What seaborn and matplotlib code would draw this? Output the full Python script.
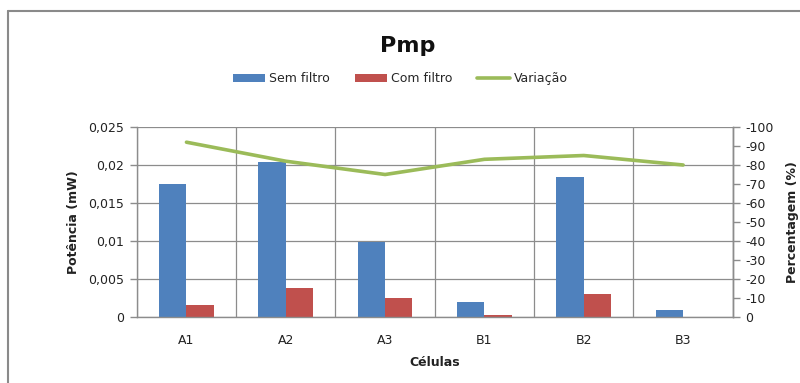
import numpy as np
import pandas as pd
import matplotlib
matplotlib.use("Agg")
import matplotlib.pyplot as plt
from matplotlib.patches import Patch
from matplotlib.lines import Line2D
from matplotlib.ticker import FuncFormatter
import seaborn as sns

# Data
celulas = ["A1", "A2", "A3", "B1", "B2", "B3"]
sem_filtro = [0.0175, 0.0204, 0.0099, 0.0020, 0.0184, 0.0009]
com_filtro = [0.0016, 0.0038, 0.0025, 0.0003, 0.0030, 0.0000]
variacao = [-92, -82, -75, -83, -85, -80]
series_names = ["Sem filtro", "Com filtro"]

blue = "#4F81BD"
red = "#C0504D"
green = "#9BBB59"
grid_c = "#8C8C8C"

sns.set_theme(style="white")
plt.rcParams["font.family"] = ["DejaVu Sans"]

df = pd.DataFrame({
    "Células": celulas * 2,
    "Potência": sem_filtro + com_filtro,
    "Série": [series_names[0]] * len(celulas) + [series_names[1]] * len(celulas),
})

fig = plt.figure(figsize=(8.0, 3.83), dpi=100)
ax = fig.add_axes([0.171, 0.1723, 0.745, 0.4961])

sns.barplot(data=df, x="Células", y="Potência", hue="Série",
            palette=[blue, red], width=0.55, saturation=1.0,
            order=celulas, hue_order=series_names, ax=ax, legend=False)
for p in ax.patches:
    p.set_edgecolor("none")

ax.set_xlim(-0.5, len(celulas) - 0.5)
ax.set_ylim(0, 0.025)
ax.set_yticks(np.arange(0, 0.0251, 0.005))
ax.yaxis.set_major_formatter(FuncFormatter(
    lambda v, _: "0" if abs(v) < 1e-12 else f"{v:g}".replace(".", ",")))
ax.set_xticks(np.arange(-0.5, len(celulas), 1.0), minor=True)
ax.tick_params(axis="x", which="major", length=0, pad=12, labelsize=9, colors="#222222")
ax.tick_params(axis="x", which="minor", length=5, width=1, color=grid_c, direction="out")
ax.tick_params(axis="y", which="major", length=5, width=1, color=grid_c,
               direction="out", left=True, labelsize=9, labelcolor="#222222", pad=4)

ax.set_axisbelow(True)
ax.grid(True, axis="y", which="major", color=grid_c, lw=0.9)
ax.grid(True, axis="x", which="minor", color=grid_c, lw=0.9)
ax.grid(False, axis="x", which="major")
ax.spines["top"].set_visible(False)
for side in ["left", "bottom", "right"]:
    ax.spines[side].set_color(grid_c)
    ax.spines[side].set_linewidth(1.0)

ax.set_xlabel("Células", fontsize=9, fontweight="bold", labelpad=7, color="#222222")
ax.set_ylabel("Potência (mW)", fontsize=9, fontweight="bold", labelpad=6, color="#222222")

# Secondary axis: percentage variation
ax2 = ax.twinx()
sns.lineplot(x=np.arange(len(celulas)), y=variacao, color=green, lw=2.6, ax=ax2)
ax2.set_ylim(0, -100)
ax2.set_yticks(np.arange(0, -101, -10))
ax2.yaxis.set_major_formatter(FuncFormatter(lambda v, _: f"{int(round(v))}"))
ax2.tick_params(axis="y", length=5, width=1, color=grid_c, direction="out",
                right=True, labelsize=9, labelcolor="#222222", pad=4)
for side in ["top", "left", "bottom"]:
    ax2.spines[side].set_visible(False)
ax2.spines["right"].set_color(grid_c)
ax2.spines["right"].set_linewidth(1.0)
ax2.set_ylabel("Percentagem (%)", fontsize=9, fontweight="bold", labelpad=9, color="#222222")
ax2.set_xlim(-0.5, len(celulas) - 0.5)

# Title and legend
fig.text(0.51, 0.88, "Pmp", ha="center", va="center", fontsize=16,
         fontweight="bold", color="#111111")
handles = [Patch(facecolor=blue, edgecolor="none"),
           Patch(facecolor=red, edgecolor="none"),
           Line2D([0], [0], color=green, lw=2.6)]
fig.legend(handles, series_names + ["Variação"], loc="center",
           bbox_to_anchor=(0.5, 0.795), ncol=3, frameon=False, fontsize=9,
           handlelength=2.6, handleheight=0.6, handletextpad=0.3, columnspacing=2.0)

# Chart border
fig.add_artist(Line2D([0.0106, 0.0106], [0.0, 0.9713], color="#8A8A8A", lw=1.5,
                      transform=fig.transFigure))
fig.add_artist(Line2D([0.0106, 1.0], [0.9713, 0.9713], color="#8A8A8A", lw=1.5,
                      transform=fig.transFigure))

fig.savefig("out.png", dpi=100)
